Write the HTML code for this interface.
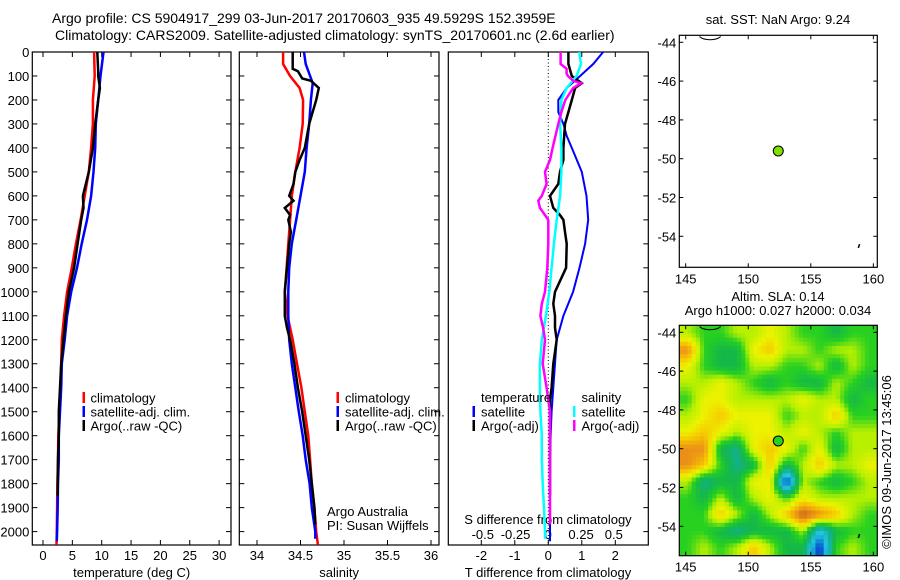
<!DOCTYPE html>
<html><head><meta charset="utf-8">
<style>
html,body{margin:0;padding:0;background:#fff;}
svg{display:block;font-family:"Liberation Sans",Arial,sans-serif;}
</style></head>
<body>
<svg id="fig" width="900" height="580" viewBox="0 0 900 580" xmlns="http://www.w3.org/2000/svg">
<defs>
<clipPath id="mapclip"><rect x="679.3" y="325.3" width="198" height="230.4"/></clipPath>
</defs>
<text x="52" y="23" font-size="14">Argo profile: CS 5904917_299 03-Jun-2017 20170603_935 49.5929S 152.3959E</text>
<text x="55" y="40" font-size="14">Climatology: CARS2009. Satellite-adjusted climatology: synTS_20170601.nc (2.6d earlier)</text>
<g id="root"></g>
</svg>
<script>
// ---------- data ----------
const depthTicks = [0,100,200,300,400,500,600,700,800,900,1000,1100,1200,1300,1400,1500,1600,1700,1800,1900,2000];
const tempTicks = [0,5,10,15,20,25,30];
const salTicks = [34,34.5,35,35.5,36];
const salTickLabels = ["34","34.5","35","35.5","36"];
const tdiffTicks = [-2,-1,0,1,2];
const sdiffTicks = [-0.5,-0.25,0,0.25,0.5];
const sdiffTickLabels = ["-0.5","-0.25","0","0.25","0.5"];

const climDepth = [0,100,200,300,400,500,600,700,800,900,1000,1100,1200,1300,1400,1500,1600,1700,1800,1900,2000,2055];
const climTemp = [8.7,8.8,8.5,8.5,8.2,7.8,7.1,6.4,5.6,4.9,4.1,3.6,3.2,3.1,3.0,2.8,2.6,2.55,2.45,2.4,2.35,2.3];
const satDepth = [0,100,200,300,400,500,600,700,800,900,1000,1100,1200,1300,1400,1500,1600,1700,1800,1900,2000,2040];
const satTemp = [10.3,9.8,9.4,9.0,8.9,8.6,8.2,7.5,6.6,5.8,4.8,4.1,3.7,3.2,3.1,2.9,2.7,2.7,2.55,2.5,2.4,2.35];
const argoTDepth = [0,80,100,150,200,300,400,500,600,650,700,800,900,1000,1100,1200,1300,1400,1500,1600,1700,1800,1850];
const argoTemp = [9.25,9.4,9.4,9.7,9.4,8.9,8.5,7.8,6.8,6.9,6.5,5.9,5.3,4.4,3.9,3.5,3.1,2.9,2.7,2.7,2.55,2.5,2.5];

const climSDepth = [0,50,100,150,200,300,400,500,600,700,800,900,1000,1100,1200,1300,1400,1500,1600,1700,1800,1900,2000,2055];
const climSal = [34.30,34.30,34.38,34.49,34.53,34.525,34.49,34.44,34.40,34.38,34.36,34.34,34.32,34.35,34.41,34.46,34.51,34.55,34.59,34.61,34.63,34.66,34.68,34.70];
const satSDepth = [0,50,100,130,200,300,400,500,600,700,800,900,1000,1100,1200,1300,1400,1500,1600,1700,1800,1900,2000,2030];
const satSal = [34.54,34.56,34.61,34.64,34.62,34.60,34.57,34.55,34.50,34.45,34.40,34.37,34.36,34.36,34.37,34.40,34.44,34.48,34.525,34.56,34.605,34.63,34.67,34.67];
const argoSDepth = [0,70,80,110,120,150,200,300,400,450,500,550,600,620,650,680,700,750,800,900,1000,1050,1100,1150,1200,1300,1400,1500,1600,1700,1800,1900,1970];
const argoSal = [34.41,34.41,34.47,34.52,34.62,34.71,34.68,34.60,34.55,34.49,34.44,34.42,34.37,34.42,34.32,34.38,34.36,34.39,34.37,34.345,34.32,34.32,34.32,34.345,34.38,34.43,34.47,34.52,34.56,34.60,34.63,34.66,34.67];

const dTSatDepth = [0,50,100,150,200,250,300,350,400,500,600,700,800,900,1000,1100,1200,1300,1400,1500,1600,1700,1800,1900,2000,2040];
const dTSat = [1.64,1.34,0.95,0.55,0.30,0.30,0.45,0.55,0.70,1.0,1.14,1.19,1.10,0.93,0.74,0.45,0.25,0.2,0.15,0.1,0.07,0.05,0.05,0.05,0.05,0.05];
const dTArgoDepth = [0,50,100,130,150,200,250,300,400,450,500,550,600,650,680,700,750,800,900,1000,1050,1100,1150,1200,1300,1400,1450,1500,1600,1700,1850];
const dTArgo = [0.6,0.6,0.7,1.0,0.8,0.7,0.6,0.5,0.45,0.45,0.35,0.3,0.05,0.15,0.35,0.45,0.5,0.55,0.53,0.2,0.15,0.2,0.2,0.25,0.15,0.1,0.05,0.05,0.05,0.05,0.05];
const dSSatDepth = [0,50,100,150,200,300,400,500,600,700,800,900,1000,1100,1200,1300,1400,1500,1600,1700,1800,1900,2000,2030];
const dSSat = [0.237,0.25,0.216,0.14,0.10,0.09,0.10,0.10,0.09,0.064,0.043,0.025,0.008,-0.018,-0.05,-0.064,-0.064,-0.06,-0.05,-0.05,-0.043,-0.033,-0.025,-0.025];
const dSArgoDepth = [0,50,70,90,100,120,130,150,200,250,300,400,450,500,550,600,620,650,680,700,800,900,1000,1050,1100,1150,1200,1300,1400,1500,1600,1700,1800,1900,1970];
const dSArgo = [0.094,0.094,0.14,0.14,0.15,0.19,0.25,0.19,0.13,0.10,0.076,0.033,0.013,-0.025,-0.013,-0.05,-0.076,-0.064,-0.025,0,0,-0.008,-0.025,-0.05,-0.06,-0.04,-0.025,-0.043,-0.013,0.013,0.013,0.013,0.013,0.013,0.013];

const lonTicks = [145,150,155,160];
const latTicks = [-44,-46,-48,-50,-52,-54];
const argoLon = 152.4, argoLat = -49.6;
// SLA field categories per cell (rows north->south, cols west->east)
const slaRows = [
 "lggllylggGgg",
 "ogGGyYllgllg",
 "ygGGllgglGlg",
 "llylgGgGGlgG",
 "gyyllllyllGg",
 "lyYyyygllYgg",
 "yYylyylylgll",
 "ooGtyYygyGll",
 "oYgtGYGlYlly",
 "ltGGyyBlgGgl",
 "gGlGlygyllll",
 "ggYlGlYroYlg",
 "ggGtGGGlcGgg",
 "glglYlGGBglg"
];
const slaLevel = {B:-1,c:-0.6,t:-0.35,G:-0.2,g:-0.05,l:0.1,y:0.25,Y:0.4,o:0.6,r:0.8};
const cmapStops = [-1,-0.6,-0.35,-0.2,-0.05,0.1,0.25,0.4,0.6,0.8];
const cmapColors = [[0,48,200],[32,200,224],[18,176,144],[20,184,72],[40,208,32],[184,240,0],[236,242,0],[246,200,0],[234,144,24],[200,96,16]];

// ---------- helpers ----------
const NS = "http://www.w3.org/2000/svg";
const root = document.getElementById('root');
function mk(tag, attrs, parent){
  const e = document.createElementNS(NS, tag);
  for (const k in attrs) e.setAttribute(k, attrs[k]);
  (parent||root).appendChild(e);
  return e;
}
const TOP = 52, BOT = 545;
const yD = d => 52 + d * 0.2398;
const xT = t => 43 + t * 5.87;
const xS = s => 257 + (s - 34) * 87;
const xDT = t => 548.3 + t * 33.5;
const xDS = s => 548.3 + s * 131;
const xLon = l => 685.7 + (l - 145) * 12.51;
const yLat1 = l => 42.3 + (-44 - l) * 19.4;
const yLat2 = l => 332.3 + (-44 - l) * 19.4;

function frame(x0, x1, y0, y1, name){
  const r = mk('rect', {x:x0, y:y0, width:x1-x0, height:y1-y0, fill:'none', stroke:'#000', 'stroke-width':1.2});
  
  
}
function line(x1,y1,x2,y2,stroke,w){ return mk('line',{x1,y1,x2,y2,stroke:stroke||'#000','stroke-width':w||1}); }
function text(x,y,s,anchor,size,name){
  const t = mk('text',{x,y,'font-size':size||12,'text-anchor':anchor||'start'});
  t.textContent = s;
  
  
  return t;
}
function profile(depths, vals, xf, color, w, name){
  const pts = depths.map((d,i)=> xf(vals[i]).toFixed(1)+','+yD(d).toFixed(1)).join(' ');
  const p = mk('polyline',{points:pts, fill:'none', stroke:color, 'stroke-width':w||2.5, 'stroke-linejoin':'miter'});
  
  
}
function depthAxis(x0, x1, labels){
  depthTicks.forEach(d=>{
    const y = yD(d);
    line(x0,y,x0+5,y); line(x1,y,x1-5,y);
    if (labels) text(x0-3, y+5, String(d), 'end', 13, 'depth-tick-label');
  });
}

// ---------- panel 1: temperature ----------
const P1 = [32.3, 231];
frame(P1[0], P1[1], TOP, BOT, 'temperature-panel');
depthAxis(P1[0], P1[1], true);
tempTicks.forEach(t=>{ const x=xT(t); line(x,BOT,x,BOT-5); line(x,TOP,x,TOP+5); text(x, 560, String(t), 'middle', 13, 'temperature-tick-label'); });
text((P1[0]+P1[1])/2, 577, 'temperature (deg C)', 'middle', 13, 'temperature-axis-title');
profile(climDepth, climTemp, xT, '#f00', 2.5, 'temperature-climatology-line');
profile(satDepth, satTemp, xT, '#00f', 2.5, 'temperature-satellite-line');
profile(argoTDepth, argoTemp, xT, '#000', 2.5, 'temperature-argo-line');
function legend3(mx, tx, y0, items, names){
  items.forEach((it,i)=>{
    const y = y0 + i*14;
    const m = mk('rect',{x:mx, y:y-6, width:2.5, height:11, fill:it[1]});
    
    
    text(tx, y+4.5, it[0], 'start', 13, names[i]+'-legend-label');
  });
}
legend3(82.5, 90.5, 398, [['climatology','#f00'],['satellite-adj. clim.','#00f'],['Argo(..raw -QC)','#000']], ['climatology','satellite-adj','argo-raw']);

// ---------- panel 2: salinity ----------
const P2 = [239.3, 439];
frame(P2[0], P2[1], TOP, BOT, 'salinity-panel');
depthAxis(P2[0], P2[1], false);
salTicks.forEach((s,i)=>{ const x=xS(s); line(x,BOT,x,BOT-5); line(x,TOP,x,TOP+5); text(x, 560, salTickLabels[i], 'middle', 13, 'salinity-tick-label'); });
text((P2[0]+P2[1])/2, 577, 'salinity', 'middle', 13, 'salinity-axis-title');
profile(climSDepth, climSal, xS, '#f00', 2.5, 'salinity-climatology-line');
profile(satSDepth, satSal, xS, '#00f', 2.5, 'salinity-satellite-line');
profile(argoSDepth, argoSal, xS, '#000', 2.5, 'salinity-argo-line');
legend3(336.5, 345, 398, [['climatology','#f00'],['satellite-adj. clim.','#00f'],['Argo(..raw -QC)','#000']], ['sal-climatology','sal-satellite-adj','sal-argo-raw']);
text(327, 516, 'Argo Australia', 'start', 13, 'institution-label');
text(327, 530, 'PI: Susan Wijffels', 'start', 13, 'pi-label');

// ---------- panel 3: differences ----------
const P3 = [448.3, 648.3];
frame(P3[0], P3[1], TOP, BOT, 'difference-panel');
tdiffTicks.forEach(t=>{ const x=xDT(t); line(x,BOT,x,BOT-5); line(x,TOP,x,TOP+5); text(x, 560, String(t), 'middle', 13, 'tdiff-tick-label'); });
sdiffTicks.forEach((s,i)=>{ text(xDS(s), 539, sdiffTickLabels[i], 'middle', 13, 'sdiff-tick-label'); });
depthTicks.forEach(d=>{ const y=yD(d); line(P3[1],y,P3[1]-5,y); });
const zl = line(xDT(0), TOP, xDT(0), BOT, '#000', 1);
zl.setAttribute('stroke-dasharray','1,2.5');


text(548, 524, 'S difference from climatology', 'middle', 13, 'sdiff-axis-title');
text(548, 577, 'T difference from climatology', 'middle', 13, 'tdiff-axis-title');
profile(dTSatDepth, dTSat, xDT, '#00f', 2, 'tdiff-satellite-line');
profile(dTArgoDepth, dTArgo, xDT, '#000', 2.5, 'tdiff-argo-line');
profile(dSSatDepth, dSSat, xDS, '#0ff', 2.5, 'sdiff-satellite-line');
profile(dSArgoDepth, dSArgo, xDS, '#f0f', 2.5, 'sdiff-argo-line');
text(481, 402, 'temperature', 'start', 13, 'temperature-legend-heading');
text(581.5, 402, 'salinity', 'start', 13, 'salinity-legend-heading');
legend3(472.5, 481, 412, [['satellite','#00f'],['Argo(-adj)','#000']], ['tdiff-satellite','tdiff-argo']);
legend3(573, 581.5, 412, [['satellite','#0ff'],['Argo(-adj)','#f0f']], ['sdiff-satellite','sdiff-argo']);

// ---------- map 1: SST ----------
const M = [679.3, 877.3];
frame(M[0], M[1], 35.3, 267.3, 'sst-map');
text(778, 24, 'sat. SST: NaN Argo: 9.24', 'middle', 13, 'sst-map-title');
function mapAxes(y0, y1, yLat, nm){
  lonTicks.forEach(l=>{ const x=xLon(l); line(x,y1,x,y1-4); line(x,y0,x,y0+4); text(x, y1+16, String(l), 'middle', 13, nm+'-lon-tick-label'); });
  latTicks.forEach(l=>{ const y=yLat(l); line(M[0],y,M[0]+4,y); line(M[1],y,M[1]-4,y); text(M[0]-3, y+5, String(l), 'end', 13, nm+'-lat-tick-label'); });
}
mapAxes(35.3, 267.3, yLat1, 'sst');
const c1 = mk('path',{d:`M ${xLon(146.1)} ${yLat1(-43.7)} A 12 6 0 0 0 ${xLon(147.8)} ${yLat1(-43.7)}`, fill:'none', stroke:'#000', 'stroke-width':1});
 
line(xLon(158.9), yLat1(-54.4), xLon(158.8), yLat1(-54.6), '#000', 1.5);
const d1 = mk('circle',{cx:xLon(argoLon), cy:yLat1(argoLat), r:5, fill:'#80e000', stroke:'#000', 'stroke-width':1});



// ---------- map 2: SLA ----------
text(778, 301, 'Altim. SLA: 0.14', 'middle', 13, 'sla-map-title');
text(778, 315, 'Argo h1000: 0.027 h2000: 0.034', 'middle', 13, 'sla-map-subtitle');
const heat = mk('g',{'clip-path':'url(#mapclip)'});


const nR = slaRows.length, nC = slaRows[0].length;
const grid = slaRows.map(row => [...row].map(k => slaLevel[k]));
function colorOf(v){
  if (v <= cmapStops[0]) return cmapColors[0];
  for (let i=1;i<cmapStops.length;i++){
    if (v <= cmapStops[i]){
      const f = (v - cmapStops[i-1])/(cmapStops[i]-cmapStops[i-1]);
      return cmapColors[i-1].map((c,j)=> Math.round(c + f*(cmapColors[i][j]-c)));
    }
  }
  return cmapColors[cmapColors.length-1];
}
function sample(r, c){ // r,c in cell-center coordinates, bilinear
  r = Math.max(0, Math.min(nR-1, r)); c = Math.max(0, Math.min(nC-1, c));
  const r0 = Math.floor(r), c0 = Math.floor(c);
  const r1 = Math.min(nR-1, r0+1), c1 = Math.min(nC-1, c0+1);
  const fr = r - r0, fc = c - c0;
  return grid[r0][c0]*(1-fr)*(1-fc) + grid[r0][c1]*(1-fr)*fc + grid[r1][c0]*fr*(1-fc) + grid[r1][c1]*fr*fc;
}
const SUB = 4;
const cw = 198 / nC / SUB, ch = 230.4 / nR / SUB;
for (let i=0;i<nR*SUB;i++){
  for (let j=0;j<nC*SUB;j++){
    const v = sample((i+0.5)/SUB - 0.5, (j+0.5)/SUB - 0.5);
    const col = colorOf(v);
    const cell = mk('rect',{x:(M[0]+j*cw).toFixed(2), y:(325.3+i*ch).toFixed(2), width:(cw+0.4).toFixed(2), height:(ch+0.4).toFixed(2), fill:`rgb(${col[0]},${col[1]},${col[2]})`}, heat);
    
    
  }
}
frame(M[0], M[1], 325.3, 555.7, 'sla-map');
mapAxes(325.3, 555.7, yLat2, 'sla');
const c2 = mk('path',{d:`M ${xLon(146.1)} ${yLat2(-43.7)} A 12 6 0 0 0 ${xLon(147.8)} ${yLat2(-43.7)}`, fill:'none', stroke:'#000', 'stroke-width':1});
 
line(xLon(158.9), yLat2(-54.4), xLon(158.8), yLat2(-54.6), '#000', 1.5);
const d2 = mk('circle',{cx:xLon(argoLon), cy:yLat2(argoLat), r:5, fill:'#28d020', stroke:'#000', 'stroke-width':1});


const cp = text(0, 0, '\u00A9IMOS 09-Jun-2017 13:45:06', 'middle', 13, 'copyright-timestamp');
cp.setAttribute('transform','translate(891 462) rotate(-90)');
</script>
</body></html>
